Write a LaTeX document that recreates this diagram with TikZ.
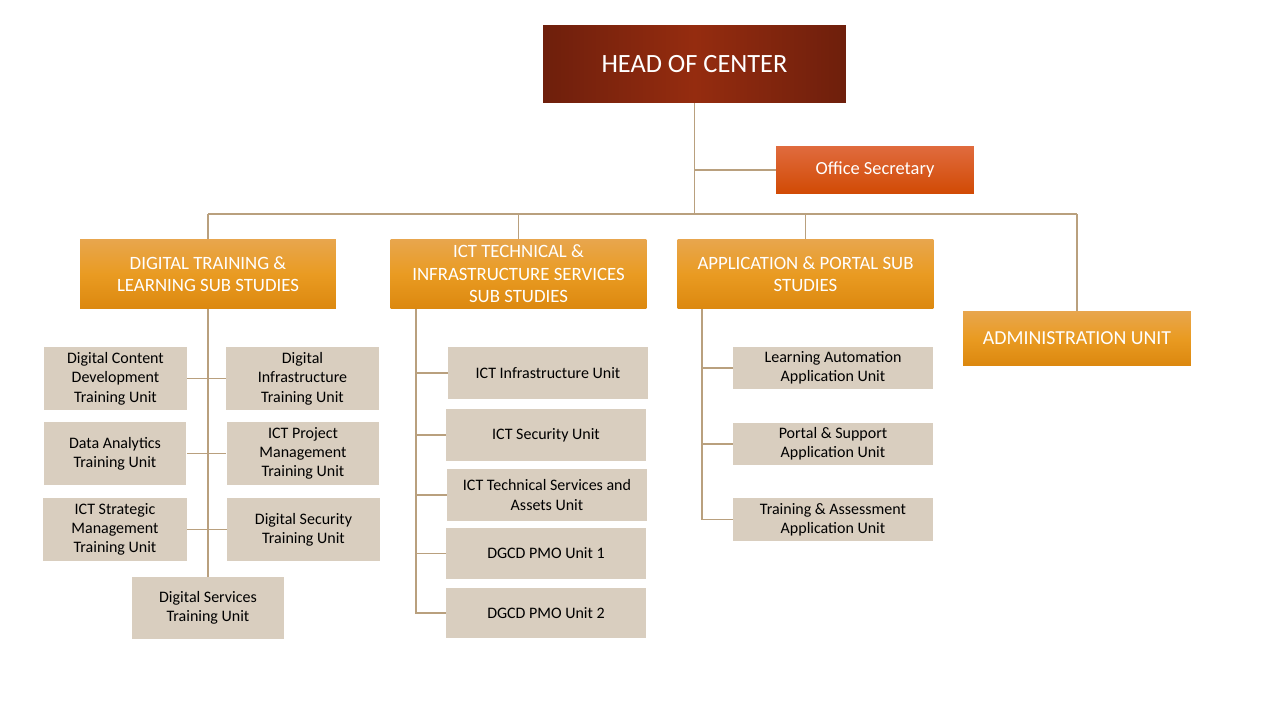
\documentclass[tikz,border=0pt]{standalone}
\usepackage{fontspec}
\setmainfont{Carlito}
\definecolor{headdark}{HTML}{6E1F0C}
\definecolor{headmid}{HTML}{952C0F}
\definecolor{sectop}{HTML}{E06B3E}
\definecolor{secbot}{HTML}{D14A04}
\definecolor{subtop}{HTML}{E8A64E}
\definecolor{submid}{HTML}{E99B22}
\definecolor{subbot}{HTML}{DC880F}
\definecolor{unitfill}{HTML}{D9CEBF}
\definecolor{linkcol}{HTML}{B9A07E}
\begin{document}
\begin{tikzpicture}[x=0.02cm, y=-0.02cm, nodes={rectangle, inner sep=0pt, align=center},
  headbox/.style={left color=headdark, right color=headdark, middle color=headmid, text=white, font=\fontsize{15}{18}\selectfont, minimum width=6.06cm, minimum height=1.56cm},
  secbox/.style={top color=sectop, bottom color=secbot, text=white, font=\fontsize{10.5}{13}\selectfont, minimum width=3.96cm, minimum height=0.96cm},
  subbox/.style={top color=subtop, bottom color=subbot, middle color=submid, text=white, font=\fontsize{10.7}{12.8}\selectfont, minimum width=5.12cm, minimum height=1.4cm},
  unitbox/.style={fill=unitfill, text=black, font=\fontsize{9.1}{11}\selectfont, minimum width=4cm, minimum height=1.04cm},
  link/.style={draw=linkcol, line width=0.8pt}]
\useasboundingbox (0,0) rectangle (1280,720);
% top
\node[headbox] (head) at (694.5,64) {HEAD OF CENTER};
\node[secbox] (sec) at (875,170) {\raisebox{-1pt}{Office Secretary}};
% sub studies
\node[subbox] (dt) at (208,274) {DIGITAL TRAINING \&\\ LEARNING SUB STUDIES};
\node[subbox] (ict) at (518.5,274) {ICT TECHNICAL \&\\ INFRASTRUCTURE SERVICES\\ SUB STUDIES};
\node[subbox] (app) at (805.5,274) {APPLICATION \& PORTAL SUB\\ STUDIES};
\node[subbox, font=\fontsize{11.3}{13}\selectfont, minimum width=4.56cm, minimum height=1.08cm] (admin) at (1077,338) {ADMINISTRATION UNIT};
% digital training units
\node[unitbox, minimum width=2.86cm, minimum height=1.26cm] (dcd) at (115.5,378.5) {Digital Content\\ Development\\ Training Unit};
\node[unitbox, minimum width=3.06cm, minimum height=1.26cm] (dinf) at (302.5,378.5) {Digital\\ Infrastructure\\ Training Unit};
\node[unitbox, minimum width=2.86cm, minimum height=1.26cm] (da) at (115,453.5) {Data Analytics\\ Training Unit};
\node[unitbox, minimum width=3.06cm, minimum height=1.26cm] (ictpm) at (303,453.5) {ICT Project\\ Management\\ Training Unit};
\node[unitbox, minimum width=2.88cm, minimum height=1.26cm] (ictsm) at (115,529.5) {ICT Strategic\\ Management\\ Training Unit};
\node[unitbox, minimum width=3.06cm, minimum height=1.26cm] (dsec) at (303.5,529.5) {Digital Security\\ Training Unit};
\node[unitbox, minimum width=3.04cm, minimum height=1.24cm] (dsv) at (208,608) {Digital Services\\ Training Unit};
% ict units
\node[unitbox] (infra) at (548,373) {ICT Infrastructure Unit};
\node[unitbox] (secu) at (546,435) {ICT Security Unit};
\node[unitbox] (tech) at (547,495) {ICT Technical Services and\\ Assets Unit};
\node[unitbox, minimum height=1.02cm] (pmoa) at (546,553.5) {DGCD PMO Unit 1};
\node[unitbox, minimum height=1.0cm] (pmob) at (546,613) {DGCD PMO Unit 2};
% application units
\node[unitbox, minimum height=0.84cm] (lau) at (833,368) {Learning Automation\\ Application Unit};
\node[unitbox, minimum height=0.84cm] (psu) at (833,444) {Portal \& Support\\ Application Unit};
\node[unitbox, minimum height=0.86cm] (tau) at (833,519.5) {Training \& Assessment\\ Application Unit};
% connectors
\coordinate (busL) at (208,214);
\coordinate (busR) at (1077,214);
\draw[link] (busL) -- (busR);
\draw[link] (head.south) -- (head.south |- busL);
\draw[link] (sec.west -| head.south) -- (sec.west);
\foreach \s in {dt,ict,app,admin}
  \draw[link] (\s.north) -- (\s.north |- busL);
\draw[link] (dt.south) -- (dsv.north);
\draw[link] (dcd.east) -- (dinf.west);
\draw[link] (da.east) -- (da.east -| ictpm.west);
\draw[link] (ictsm.east) -- (dsec.west);
\draw[link] (ict.south west) ++(26,0) coordinate (ictT) -- (ictT |- pmob.west) -- (pmob.west);
\foreach \u in {infra,secu,tech,pmoa}
  \draw[link] (ictT |- \u.west) -- (\u.west);
\draw[link] (app.south west) ++(25,0) coordinate (appT) -- (appT |- tau.west) -- (tau.west);
\foreach \u in {lau,psu}
  \draw[link] (appT |- \u.west) -- (\u.west);
\end{tikzpicture}
\end{document}
